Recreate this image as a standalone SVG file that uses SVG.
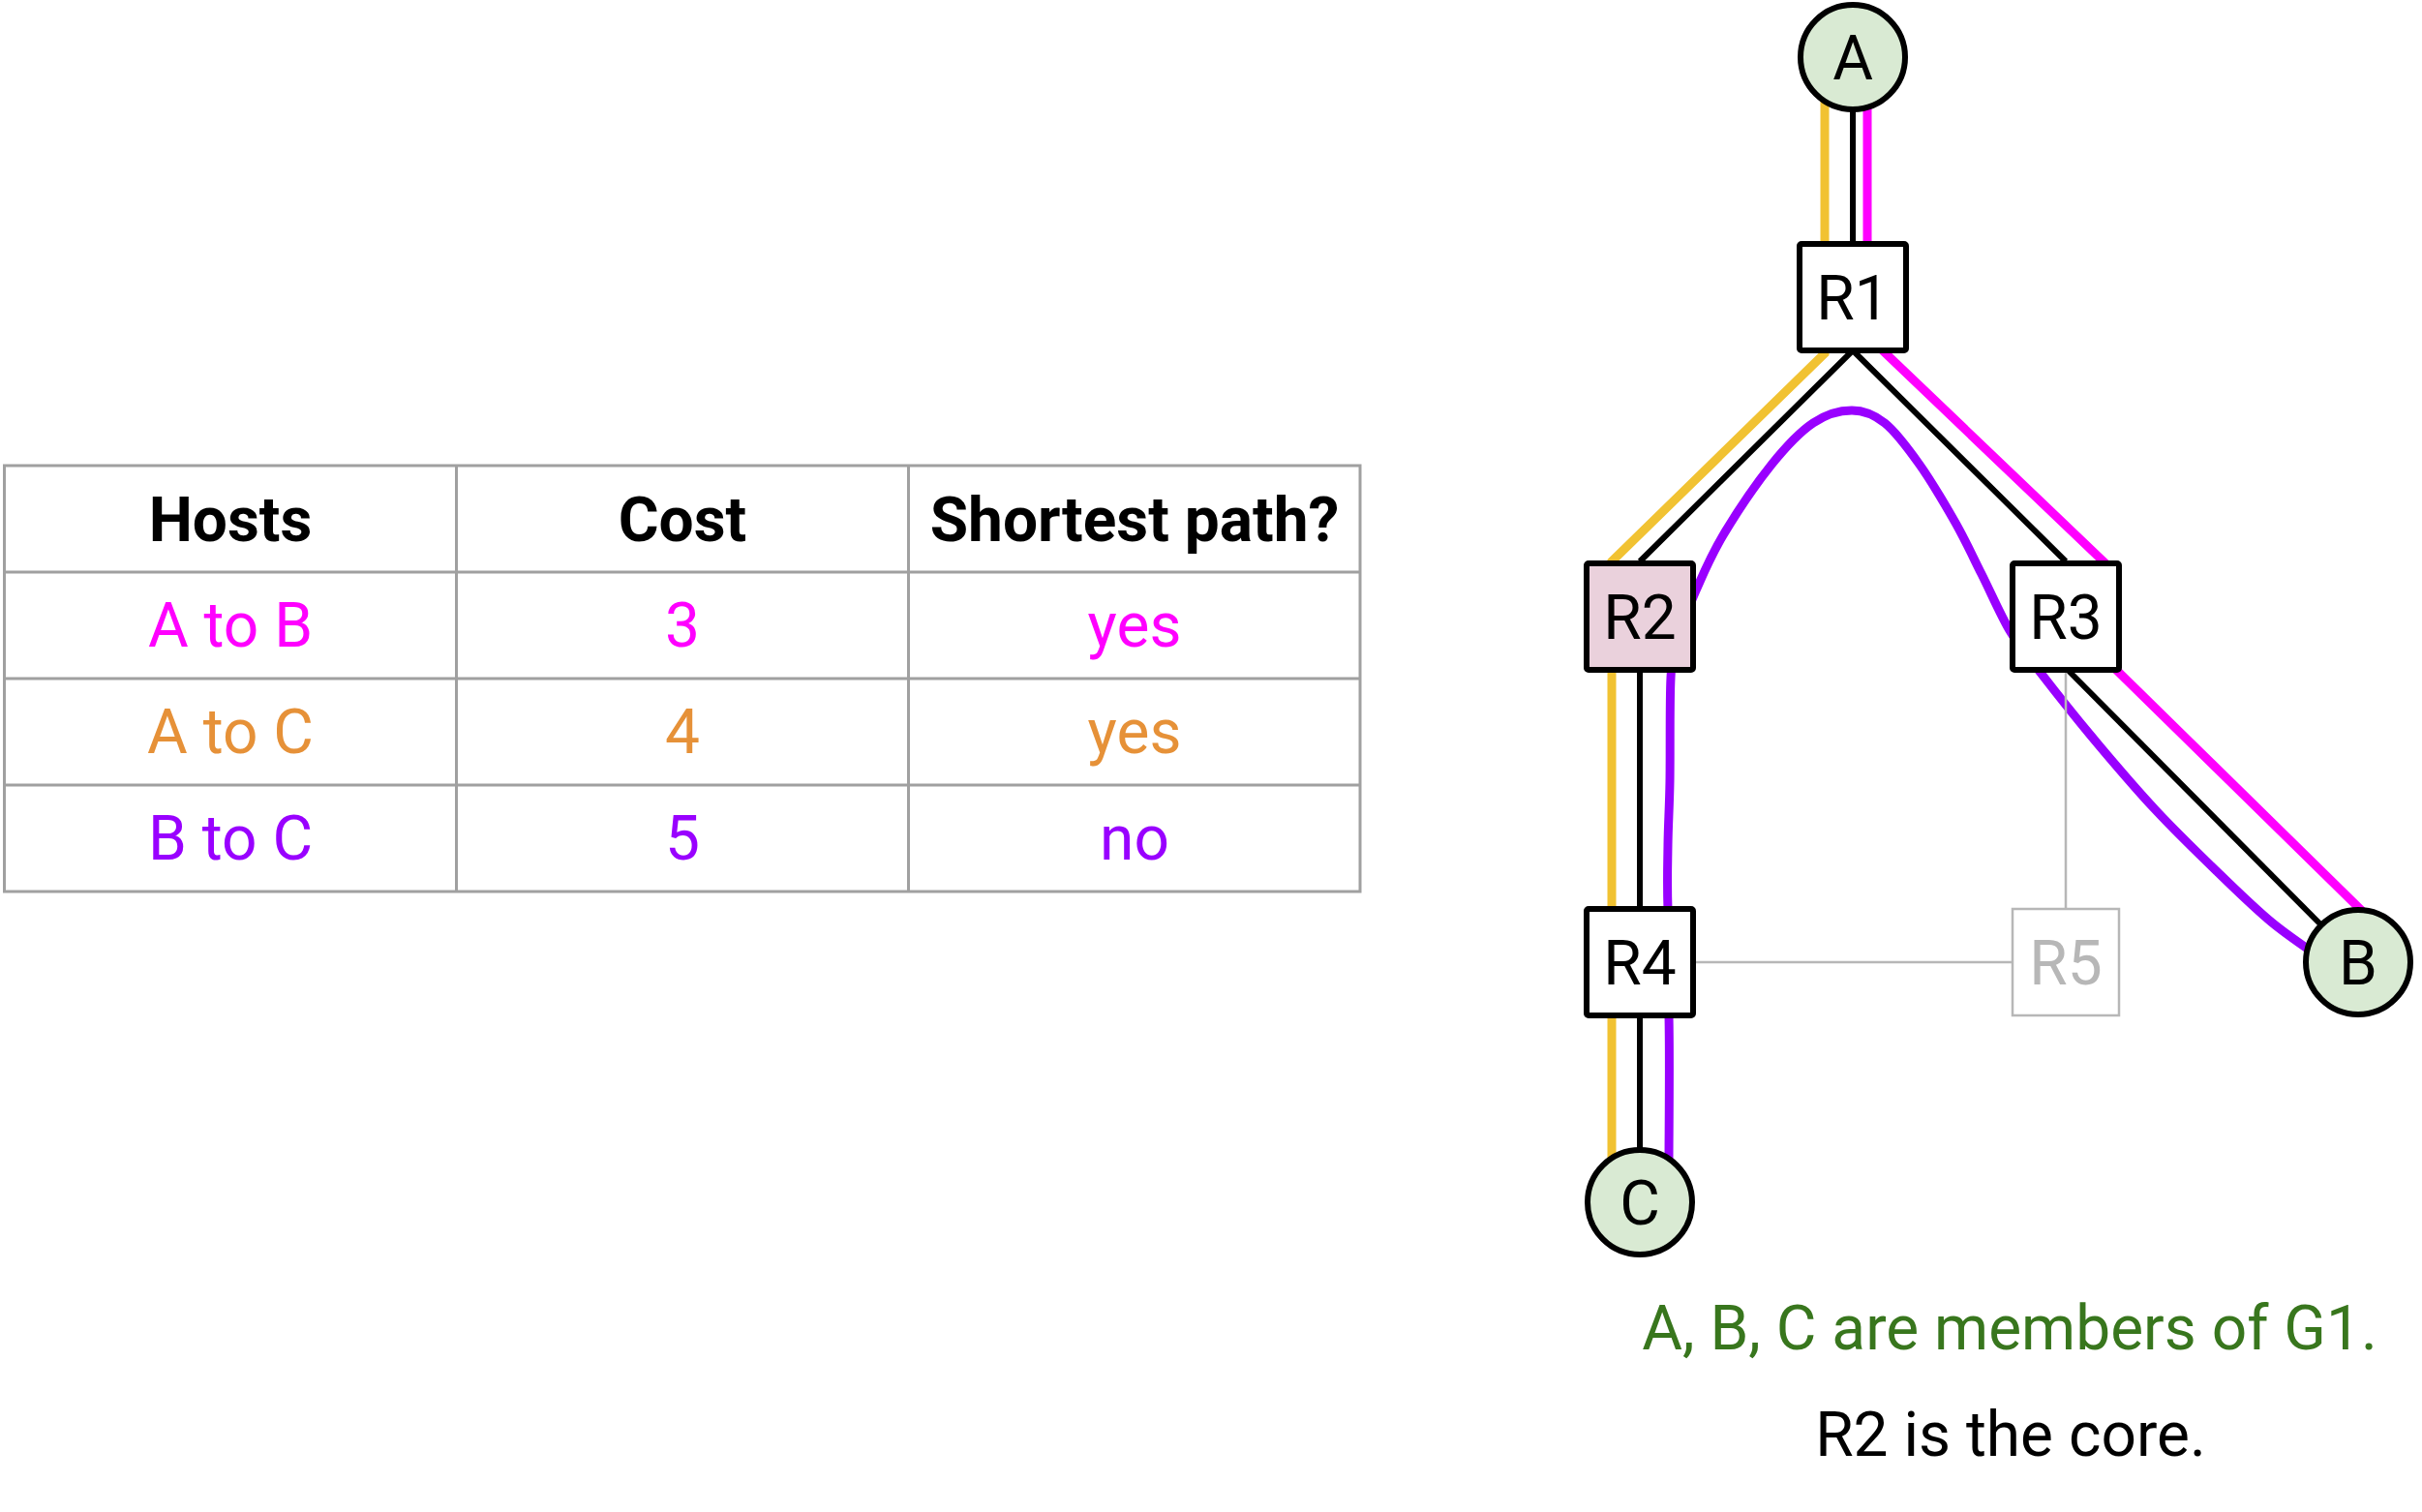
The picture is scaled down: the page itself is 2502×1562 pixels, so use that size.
<svg xmlns="http://www.w3.org/2000/svg" width="2502" height="1562" viewBox="0 0 2502 1562">
<style>
.t{font-family:Roboto,"Liberation Sans",sans-serif;font-size:64px;text-anchor:middle}
.hb{font-weight:bold;fill:#000}
.mag{fill:#FF00FF}
.org{fill:#E69138}
.pur{fill:#9900FF}
.grid{stroke:#a0a0a0;stroke-width:3;fill:none}
.router{fill:#fff;stroke:#000;stroke-width:6;stroke-linejoin:round}
.host{fill:#D9EAD3;stroke:#000;stroke-width:6}
.lbl{fill:#000}
.ghost{fill:#fff;stroke:#B7B7B7;stroke-width:2.5}
.glbl{fill:#B7B7B7}
.c-yel{stroke:#F1C232;stroke-width:9;fill:none}
.c-mag{stroke:#FF00FF;stroke-width:9;fill:none;stroke-linejoin:round}
.c-pur{stroke:#9900FF;stroke-width:9;fill:none}
.c-blk{stroke:#000;stroke-width:6;fill:none}
.c-gry{stroke:#B7B7B7;stroke-width:2.5;fill:none}
</style>
<rect width="2502" height="1562" fill="#fff"/>
<g id="table">
  <rect class="grid" x="4.5" y="481" width="1400.5" height="440"/>
  <line class="grid" x1="4.5" y1="591" x2="1405" y2="591"/>
  <line class="grid" x1="4.5" y1="701" x2="1405" y2="701"/>
  <line class="grid" x1="4.5" y1="811" x2="1405" y2="811"/>
  <line class="grid" x1="471.5" y1="481" x2="471.5" y2="921"/>
  <line class="grid" x1="938.5" y1="481" x2="938.5" y2="921"/>
  <text class="t hb" x="238" y="559">Hosts</text>
  <text class="t hb" x="705" y="559">Cost</text>
  <text class="t hb" x="1172" y="559">Shortest path?</text>
  <text class="t mag" x="238" y="668">A to B</text>
  <text class="t mag" x="705" y="668">3</text>
  <text class="t mag" x="1172" y="668">yes</text>
  <text class="t org" x="238" y="778">A to C</text>
  <text class="t org" x="705" y="778">4</text>
  <text class="t org" x="1172" y="778">yes</text>
  <text class="t pur" x="238" y="888">B to C</text>
  <text class="t pur" x="705" y="888">5</text>
  <text class="t pur" x="1172" y="888">no</text>
</g>
<g id="connectors">
  <path class="c-yel" d="M1885,60 L1885,365 L1665,580 L1665,1240"/>
  <path class="c-mag" d="M1929,60 L1929,347 L2176,583 L2176,682 L2440,941"/>
  <path class="c-pur" d="M2398,990 C2389.5,983.8 2364.5,967.5 2347,953 C2329.5,938.5 2313,922.3 2293,903 C2273,883.7 2249.2,860.8 2227,837 C2204.8,813.2 2179.8,783.7 2160,760 C2140.2,736.3 2121.8,712.8 2108,695 C2094.2,677.2 2087.2,670 2077,653 C2066.8,636 2056.5,611.8 2047,593 C2037.5,574.2 2030.7,558.8 2020,540 C2009.3,521.2 1995.2,497.2 1983,480 C1970.8,462.8 1958.7,446.3 1947,437 C1935.3,427.7 1925.3,424 1913,424 C1900.7,424 1886.8,427.7 1873,437 C1859.2,446.3 1845.5,460.7 1830,480 C1814.5,499.3 1793,531.3 1780,553 C1767,574.7 1759.8,592.2 1752,610 C1744.2,627.8 1737.3,645 1733,660 C1728.7,675 1727.3,675.5 1726,700 C1724.7,724.5 1725.5,778.2 1725,807 C1724.5,835.8 1723.3,850.8 1723,873 C1722.7,895.2 1722,910.5 1723,940 C1724,969.5 1723,1006.7 1724,1050 C1725,1093.3 1724,1175 1724,1200"/>
  <path class="c-blk" d="M1914,61 L1914,307"/>
  <path class="c-blk" d="M1694,580 L1914,362 L2134,580"/>
  <path class="c-blk" d="M1694,637 L1694,1242"/>
  <path class="c-blk" d="M2134,690 L2436,994"/>
  <path class="c-gry" d="M2134,693 L2134,940"/>
  <path class="c-gry" d="M1750,994 L2080,994"/>
</g>
<g id="node-A">
  <circle class="host" cx="1914" cy="59" r="54"/>
  <text class="t lbl" x="1914" y="82">A</text>
</g>
<g id="node-R1">
  <rect class="router" x="1859" y="252" width="110" height="110" rx="2"/>
  <text class="t lbl" x="1914" y="330">R1</text>
</g>
<g id="node-R2">
  <rect class="router" x="1639" y="582" width="110" height="110" rx="2" style="fill:#EAD1DC"/>
  <text class="t lbl" x="1694" y="660">R2</text>
</g>
<g id="node-R3">
  <rect class="router" x="2079" y="582" width="110" height="110" rx="2"/>
  <text class="t lbl" x="2134" y="660">R3</text>
</g>
<g id="node-R4">
  <rect class="router" x="1639" y="939" width="110" height="110" rx="2"/>
  <text class="t lbl" x="1694" y="1017">R4</text>
</g>
<g id="node-R5">
  <rect class="ghost" x="2079" y="939" width="110" height="110"/>
  <text class="t glbl" x="2134" y="1017">R5</text>
</g>
<g id="node-B">
  <circle class="host" cx="2436" cy="994" r="54"/>
  <text class="t lbl" x="2436" y="1017">B</text>
</g>
<g id="node-C">
  <circle class="host" cx="1694" cy="1242" r="54"/>
  <text class="t lbl" x="1694" y="1265">C</text>
</g>
<g id="captions">
  <text class="t" x="2076" y="1394" style="fill:#38761D">A, B, C are members of G1.</text>
  <text class="t" x="2077" y="1504" style="fill:#000">R2 is the core.</text>
</g>
</svg>
